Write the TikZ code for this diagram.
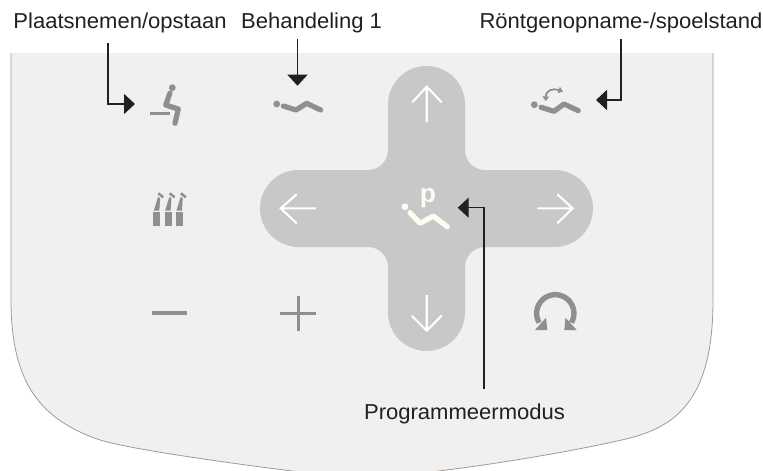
\documentclass[tikz,border=0pt]{standalone}
\usepackage{fontspec}
\setmainfont[FakeStretch=1.02]{Liberation Sans}
\usepackage{tikz}
\usetikzlibrary{positioning,arrows.meta,calc}

\definecolor{panelfill}{HTML}{F0F0F0}
\definecolor{panelline}{HTML}{A39A95}
\definecolor{crossfill}{HTML}{C8C8C8}
\definecolor{icongray}{HTML}{8F8F8F}
\definecolor{iconcream}{HTML}{FDFCF0}
\definecolor{inktone}{HTML}{231F20}

\tikzset{
  lbl/.style={anchor=base, inner sep=0pt, text=inktone, font=\fontsize{21.6}{24}\selectfont},
  callout/.style={draw=inktone, line width=1.4pt, -{Triangle[length=11pt,width=20pt]}},
  hotspot/.style={inner sep=0pt, outer sep=0pt, minimum height=30pt},
  body/.style={draw=#1, line width=5.2pt, line cap=round, line join=round},
  padarrow/.style={draw=white, line width=2.1pt},
}

\begin{document}
\begin{tikzpicture}[x=1pt,y=-1pt]

  \useasboundingbox (0,0) rectangle (763,471);
  \clip (0,0) rectangle (763,471);

  % panel
  \fill[panelfill] (11,53) -- (713,53) -- (713,300) .. controls (713,395) and (680,425) .. (630,438)
    .. controls (590,448) and (500,464) .. (430,472) -- (300,472)
    .. controls (220,462) and (130,449) .. (100,440) .. controls (42,420) and (11,385) .. (11,300) -- cycle;
  \draw[panelline, line width=0.8pt] (713,53) -- (713,300) .. controls (713,395) and (680,425) .. (630,438)
    .. controls (590,448) and (500,464) .. (430,472) -- (300,472)
    .. controls (220,462) and (130,449) .. (100,440) .. controls (42,420) and (11,385) .. (11,300) -- (11,53);

  % cross pad
  \fill[crossfill] (388,104.5) arc[start angle=180,end angle=360,radius=38.5]
    -- (465,150) arc[start angle=180,end angle=90,radius=20]
    -- (554.5,170) arc[start angle=270,end angle=450,radius=38.5]
    -- (485,247) arc[start angle=270,end angle=180,radius=20]
    -- (465,312.5) arc[start angle=0,end angle=180,radius=38.5]
    -- (388,267) arc[start angle=0,end angle=-90,radius=20]
    -- (298.5,247) arc[start angle=90,end angle=270,radius=38.5]
    -- (368,170) arc[start angle=90,end angle=0,radius=20]
    -- cycle;

  \draw[padarrow] (426.7,122) -- (426.7,86.7) (412.3,102.3) -- (426.7,86.7) -- (441.7,102.3);
  \draw[padarrow] (426.7,295) -- (426.7,330.7) (411.7,315.7) -- (426.7,330.7) -- (441.7,315.7);
  \draw[padarrow] (316,208.3) -- (280.7,208.3) (296.7,194.3) -- (280.7,208.3) -- (296.7,223.3);
  \draw[padarrow] (537.3,208.3) -- (572.7,208.3) (557.3,194.3) -- (572.7,208.3) -- (557.3,223.3);

  % icon: sit
  \fill[icongray] (172.3,87.7) circle (3.4);
  \draw[body=icongray] (170,93) -- (165.7,105) -- (178.3,109) -- (175,123.3);
  \fill[icongray] (150,112) rectangle (170,115);

  % icon: treatment
  \fill[icongray] (276.7,104) circle (3.4);
  \draw[body=icongray] (283.3,106) -- (296,110) -- (306.7,103.3) -- (320.7,110);

  % icon: x-ray
  \fill[icongray] (534.3,104.7) circle (3.4);
  \draw[body=icongray] (541,107.3) -- (554,111.3) -- (564,104) -- (578.3,110.7);
  \draw[icongray, line width=1.8pt, {Triangle[length=4.5pt,width=6.5pt]}-{Triangle[length=4.5pt,width=6.5pt]}]
    (545.7,101) .. controls (546,90) and (553,88) .. (563,91.5);

  % icon: handpieces
  \foreach \dx in {0,11.3,22.6} {
    \fill[icongray, xshift=\dx pt] (153.2,212.3) rectangle (160.2,225.7);
    \fill[icongray, xshift=\dx pt] (153.8,210.7) -- (159.3,210.7) -- (160.2,198.3) -- (158,197) -- cycle;
    \draw[icongray, line width=2.5pt, xshift=\dx pt] (158.3,193.3) -- (163.3,197.3);
  }

  % icon: minus, plus, rinse
  \fill[icongray] (152,311) rectangle (186.7,315);
  \draw[icongray, line width=3pt] (280,313.3) -- (315.7,313.3) (298,295.7) -- (298,331);
  \draw[icongray, line width=5.4pt] (539.1,322.7) arc[start angle=150,end angle=390,radius=18.7];
  \fill[icongray] (535,330) -- (547.3,330) -- (546,317.7) -- cycle;
  \fill[icongray] (576.7,330) -- (564.3,330) -- (565.5,317.7) -- cycle;

  % icon: program
  \fill[iconcream] (405,206.7) circle (3.4);
  \draw[body=iconcream] (410,212.7) -- (420,223.3) -- (433.3,216) -- (447.3,226.7);
  \node[inner sep=0pt, text=iconcream, font=\fontsize{26}{26}\selectfont\bfseries] (progp) at (428,198.5) {p};

  % labels
  \node[lbl, outer sep=10.6pt] (lblsit) at (120,28) {Plaatsnemen/opstaan};
  \node[lbl, outer sep=6.6pt] (lbltreat) at (311.5,28) {Behandeling 1};
  \node[lbl, outer sep=6.6pt] (lblxray) at (621,28) {Röntgenopname-/spoelstand};
  \node[lbl, outer sep=14.7pt] (lblprog) at (464.5,419) {Programmeermodus};

  % arrow targets
  \node[hotspot, minimum width=61pt] (sit) at (165.5,104) {};
  \node[hotspot, minimum width=50pt] (treat) at (297.5,100.7) {};
  \node[hotspot, minimum width=40pt] (xray) at (576,100) {};
  \node[hotspot, minimum width=50pt] (prog) at (432.7,207.7) {};

  \draw[callout] ([xshift=-12pt]lblsit.south) |- (sit.west);
  \draw[callout] ([xshift=-14pt]lbltreat.south) -- (treat.north);
  \draw[callout] (lblxray.south) |- (xray.east);
  \draw[callout] ([xshift=19.5pt]lblprog.north) |- (prog.east);

\end{tikzpicture}
\end{document}
